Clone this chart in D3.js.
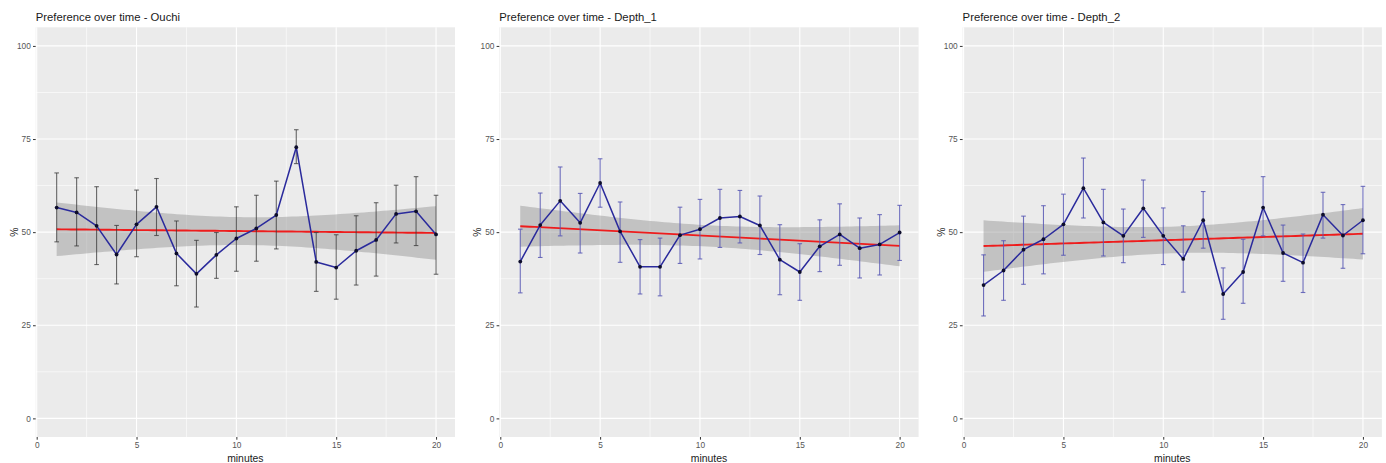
<!DOCTYPE html>
<html>
<head>
<meta charset="utf-8">
<script src="https://cdn.jsdelivr.net/npm/d3@7"></script>
<style>
  html, body { margin: 0; padding: 0; background: #ffffff; }
  svg { display: block; }
  text { font-family: "Liberation Sans", Arial, sans-serif; }
</style>
</head>
<body>
<svg id="chart" width="1386" height="463"></svg>
<script>
// ---- Data ----
const minutes = [1,2,3,4,5,6,7,8,9,10,11,12,13,14,15,16,17,18,19,20];

const titles = ["Preference over time - Ouchi", "Preference over time - Depth_1", "Preference over time - Depth_2"];

const ouchiMean  = [56.6,55.3,51.7,44.0,52.1,56.8,44.3,38.8,43.9,48.3,51.0,54.6,72.8,42.0,40.5,45.0,47.9,54.9,55.6,49.4];
const ouchiUpper = [65.9,64.6,62.2,51.8,61.3,64.4,53.0,47.8,49.9,56.8,59.9,63.7,77.5,49.9,49.3,54.4,57.9,62.6,64.9,59.9];
const ouchiLower = [47.4,46.3,41.3,36.1,43.4,49.1,35.6,29.9,37.6,39.5,42.2,45.5,68.4,34.1,32.0,35.8,38.2,47.1,46.4,38.7];

const depth1Mean  = [42.1,51.9,58.4,52.5,63.2,50.2,40.7,40.7,49.2,50.8,53.8,54.2,51.8,42.6,39.3,46.2,49.4,45.7,46.7,49.9];
const depth1Upper = [50.8,60.5,67.5,60.4,69.7,58.1,48.0,48.4,56.7,58.8,61.5,61.2,59.7,52.0,46.9,53.3,57.6,53.8,54.7,57.2];
const depth1Lower = [33.7,43.2,49.0,44.4,56.7,41.9,33.4,32.9,41.6,42.8,45.9,47.1,44.0,33.2,31.7,39.4,41.1,37.7,38.5,42.4];

const depth2Mean  = [35.8,39.7,45.3,48.1,52.1,61.8,52.6,49.0,56.4,49.0,42.8,53.2,33.4,39.3,56.6,44.4,41.8,54.7,49.1,53.2];
const depth2Upper = [43.9,47.7,54.3,57.1,60.2,69.9,61.5,56.2,64.0,56.5,51.7,60.9,40.4,48.1,64.9,51.9,49.5,60.7,57.4,62.3];
const depth2Lower = [27.5,31.7,36.0,38.8,43.8,53.8,43.6,41.8,48.6,41.3,33.9,45.7,26.6,30.9,49.0,36.8,33.8,48.4,40.3,44.2];

const yTicks = [0,25,50,75,100];
const xTicks = [0,5,10,15,20];
const yLabel = "%";
const xLabel = "minutes";

// ---- Layout / style ----
const panelLefts = [35.7, 499.3, 962.6];
const panelWidth = 419.3;
const panelTop = 27.3, panelBottom = 437;
const errColors = ["#3a3a3a", "#5858b4", "#5858b4"];
const errOpacity = [0.75, 0.85, 0.85];

const panels = [
  {mean: ouchiMean,  upper: ouchiUpper,  lower: ouchiLower},
  {mean: depth1Mean, upper: depth1Upper, lower: depth1Lower},
  {mean: depth2Mean, upper: depth2Upper, lower: depth2Lower}
];

const svg = d3.select("#chart");
const T18 = 2.100922; // t quantile 0.975, df = 18 (n - 2)

function linFit(xs, ys) {
  const n = xs.length;
  const mx = d3.mean(xs), my = d3.mean(ys);
  let sxx = 0, sxy = 0;
  for (let i = 0; i < n; i++) { sxx += (xs[i]-mx)**2; sxy += (xs[i]-mx)*(ys[i]-my); }
  const b = sxy / sxx, a = my - b*mx;
  let sse = 0;
  for (let i = 0; i < n; i++) sse += (ys[i] - (a + b*xs[i]))**2;
  const s = Math.sqrt(sse/(n-2));
  return {a, b, s, mx, sxx, n};
}

panels.forEach((p, k) => {
  const left = panelLefts[k], right = left + panelWidth;
  const x = d3.scaleLinear().domain([-0.05, 20.95]).range([left, right]);
  const y = d3.scaleLinear().domain([-5, 105]).range([panelBottom, panelTop]);
  const g = svg.append("g");

  // panel background
  g.append("rect").attr("x", left).attr("y", panelTop)
    .attr("width", panelWidth).attr("height", panelBottom - panelTop)
    .attr("fill", "#ebebeb");

  // minor grid
  const yMinor = [12.5, 37.5, 62.5, 87.5];
  const xMinor = [2.5, 7.5, 12.5, 17.5];
  g.selectAll(".ymin").data(yMinor).enter().append("line")
    .attr("x1", left).attr("x2", right)
    .attr("y1", d => y(d)).attr("y2", d => y(d))
    .attr("stroke", "#ffffff").attr("stroke-width", 0.6);
  g.selectAll(".xmin").data(xMinor).enter().append("line")
    .attr("y1", panelTop).attr("y2", panelBottom)
    .attr("x1", d => x(d)).attr("x2", d => x(d))
    .attr("stroke", "#ffffff").attr("stroke-width", 0.6);
  // major grid
  g.selectAll(".ymaj").data(yTicks).enter().append("line")
    .attr("x1", left).attr("x2", right)
    .attr("y1", d => y(d)).attr("y2", d => y(d))
    .attr("stroke", "#ffffff").attr("stroke-width", 1.1);
  g.selectAll(".xmaj").data(xTicks).enter().append("line")
    .attr("y1", panelTop).attr("y2", panelBottom)
    .attr("x1", d => x(d)).attr("x2", d => x(d))
    .attr("stroke", "#ffffff").attr("stroke-width", 1.1);

  // axes
  const yAxis = d3.axisLeft(y).tickValues(yTicks).tickSize(2.7).tickPadding(2.2);
  const ya = g.append("g").attr("transform", `translate(${left},0)`).call(yAxis);
  const xAxis = d3.axisBottom(x).tickValues(xTicks).tickSize(2.7).tickPadding(2.2);
  const xa = g.append("g").attr("transform", `translate(0,${panelBottom})`).call(xAxis);
  [ya, xa].forEach(a => {
    a.select(".domain").remove();
    a.selectAll(".tick line").attr("stroke", "#333333").attr("stroke-width", 1);
    a.selectAll(".tick text").attr("fill", "#555555").style("font-size", "8.3px")
      .style("font-family", '"Liberation Sans", Arial, sans-serif');
  });

  // regression fit with 95% CI
  const fit = linFit(minutes, p.mean);
  const xs = d3.range(80).map(i => 1 + i*(19/79));
  const band = xs.map(xv => {
    const yhat = fit.a + fit.b*xv;
    const se = fit.s * Math.sqrt(1/fit.n + (xv-fit.mx)**2/fit.sxx);
    return {x: xv, y: yhat, lo: yhat - T18*se, hi: yhat + T18*se};
  });
  g.append("path").datum(band)
    .attr("d", d3.area().x(d => x(d.x)).y0(d => y(d.lo)).y1(d => y(d.hi)))
    .attr("fill", "#999999").attr("fill-opacity", 0.5);
  g.append("path").datum(band)
    .attr("d", d3.line().x(d => x(d.x)).y(d => y(d.y)))
    .attr("fill", "none").attr("stroke", "#ee1c1c").attr("stroke-width", 1.9);

  // error bars
  const eb = g.append("g").attr("stroke", errColors[k]).attr("stroke-opacity", errOpacity[k])
    .attr("stroke-width", 1.1).attr("fill", "none");
  minutes.forEach((m, i) => {
    const cx = x(m);
    eb.append("line").attr("x1", cx).attr("x2", cx).attr("y1", y(p.upper[i])).attr("y2", y(p.lower[i]));
    eb.append("line").attr("x1", cx-2.3).attr("x2", cx+2.3).attr("y1", y(p.upper[i])).attr("y2", y(p.upper[i]));
    eb.append("line").attr("x1", cx-2.3).attr("x2", cx+2.3).attr("y1", y(p.lower[i])).attr("y2", y(p.lower[i]));
  });

  // mean line
  g.append("path").datum(minutes.map((m, i) => [m, p.mean[i]]))
    .attr("d", d3.line().x(d => x(d[0])).y(d => y(d[1])))
    .attr("fill", "none").attr("stroke", "#2a2a9c").attr("stroke-width", 1.5)
    .attr("stroke-linejoin", "round");

  // points
  g.selectAll(".pt").data(minutes).enter().append("circle")
    .attr("cx", d => x(d)).attr("cy", (d, i) => y(p.mean[i]))
    .attr("r", 1.9).attr("fill", "#0d0d2a");

  // titles and axis labels
  g.append("text").attr("x", left).attr("y", 20.7)
    .style("font-size", "11.3px").attr("fill", "#1a1a1a").text(titles[k]);
  g.append("text").attr("x", (left + right)/2).attr("y", 461.5)
    .attr("text-anchor", "middle").style("font-size", "10.4px").attr("fill", "#1a1a1a")
    .text(xLabel);
  g.append("text")
    .attr("transform", `translate(${left - 21.5},${(panelTop + panelBottom)/2}) rotate(-90)`)
    .attr("text-anchor", "middle").attr("dy", "0.35em")
    .style("font-size", "10.4px").attr("fill", "#1a1a1a").text(yLabel);
});
</script>
</body>
</html>
